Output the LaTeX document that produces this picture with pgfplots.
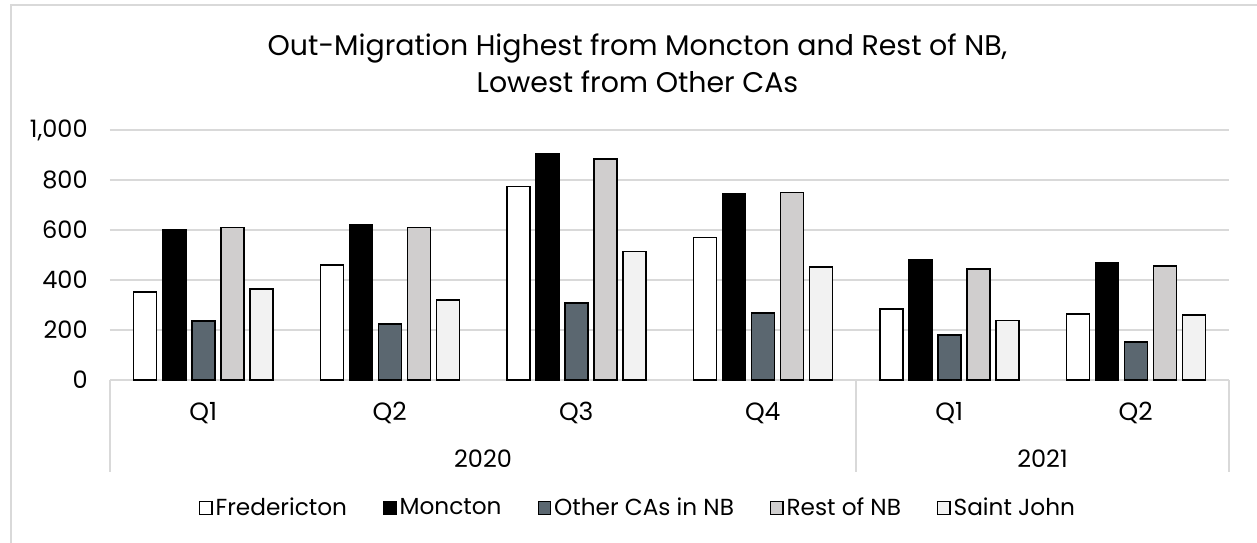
\documentclass[border=0pt]{standalone}
\usepackage{pgfplots}
\pgfplotsset{compat=1.18}
\usepackage{fontspec}
\setmainfont{Poppins}
\definecolor{gridc}{HTML}{D9D9D9}
\definecolor{otherc}{HTML}{5B6770}
\definecolor{restc}{HTML}{D0CECE}
\definecolor{sjc}{HTML}{F2F2F2}
\begin{document}
\begin{tikzpicture}
\useasboundingbox (0,0) rectangle (628.5pt,271pt);
\draw[gridc, line width=0.75pt] (5.5pt,-5pt) -- (5.5pt,268.5pt) -- (640pt,268.5pt);
\node[font=\fontsize{14.2}{17}\selectfont, anchor=base, inner sep=0pt] at (318.75pt,243pt) {Out-Migration Highest from Moncton and Rest of NB,};
\node[font=\fontsize{14.2}{17}\selectfont, anchor=base, inner sep=0pt] at (318.75pt,224.5pt) {Lowest from Other CAs};
\begin{axis}[
  at={(55pt,81pt)}, anchor=south west,
  scale only axis, width=559.5pt, height=125pt,
  xmin=-0.5, xmax=5.5, ymin=0, ymax=1000,
  ybar=3pt, bar width=11.5pt,
  ytick={0,200,...,1000},
  ymajorgrids, grid style={gridc, line width=0.75pt},
  axis line style={draw=none},
  major tick length=0pt,
  xtick={0,...,5},
  xticklabels={Q1,Q2,Q3,Q4,Q1,Q2},
  x tick label style={anchor=base, inner sep=0pt, yshift=-20pt, font=\fontsize{12.5}{14}\selectfont},
  y tick label style={anchor=east, inner sep=0pt, xshift=-11pt, font=\fontsize{12}{14}\selectfont},
  /pgf/number format/.cd, 1000 sep={,}, assume math mode=true,
  /pgfplots/.cd,
  clip=false,
  legend style={at={(0.4723,-0.512)}, anchor=center, draw=none, fill=none,
    legend columns=-1, font=\fontsize{11.6}{13}\selectfont,
    nodes={inner xsep=1.5pt},
    /tikz/every even column/.append style={column sep=16.5pt}},
  legend image code/.code={\draw[#1, line width=0.6pt] (0pt,-3.1pt) rectangle (6.2pt,3.1pt);},
]
\addplot[fill=white, draw=black, line width=0.75pt] coordinates {(0,353) (1,460) (2,775) (3,571) (4,284) (5,265)};
\addplot[fill=black, draw=black, line width=0.75pt] coordinates {(0,603) (1,620) (2,907) (3,747) (4,483) (5,468)};
\addplot[fill=otherc, draw=black, line width=0.75pt] coordinates {(0,236) (1,225) (2,309) (3,269) (4,180) (5,153)};
\addplot[fill=restc, draw=black, line width=0.75pt] coordinates {(0,611) (1,611) (2,884) (3,751) (4,444) (5,457)};
\addplot[fill=sjc, draw=black, line width=0.75pt] coordinates {(0,364) (1,320) (2,515) (3,452) (4,239) (5,260)};
\legend{Fredericton,Moncton,Other CAs in NB,Rest of NB,Saint John}
\draw[gridc, line width=0.75pt] (axis cs:-0.5,0) -- ++(0pt,-46pt);
\draw[gridc, line width=0.75pt] (axis cs:3.5,0) -- ++(0pt,-46pt);
\draw[gridc, line width=0.75pt] (axis cs:5.5,0) -- ++(0pt,-46pt);
\node[anchor=base, inner sep=0pt, font=\fontsize{12}{14}\selectfont] at (axis cs:1.5,0) [yshift=-43.5pt] {2020};
\node[anchor=base, inner sep=0pt, font=\fontsize{12}{14}\selectfont] at (axis cs:4.5,0) [yshift=-43.5pt] {2021};
\end{axis}
\end{tikzpicture}
\end{document}
